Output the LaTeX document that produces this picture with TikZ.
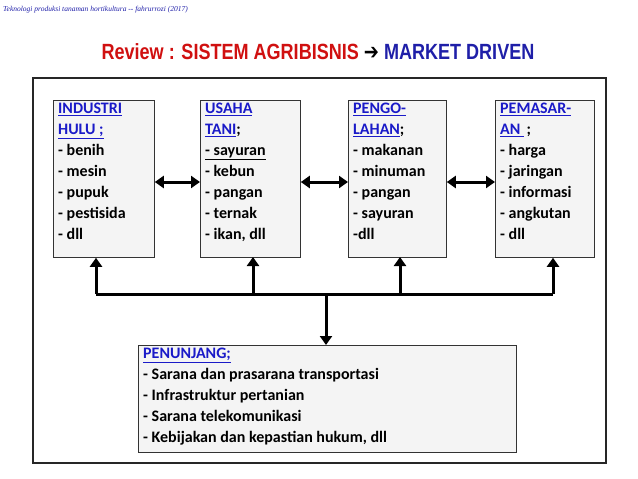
\documentclass[tikz,border=0pt]{standalone}
\usepackage{fontspec}
\setmainfont{Carlito}
\newfontfamily\titlef{Liberation Sans}
\newfontfamily\hdrf{Liberation Serif}
\newfontfamily\symf{DejaVu Sans}
\usetikzlibrary{arrows.meta}
\definecolor{tred}{HTML}{D01010}
\definecolor{tblue}{HTML}{1F1FA8}
\definecolor{hblue}{HTML}{1A1AC8}
\definecolor{boxg}{HTML}{F4F4F4}
\tikzset{
 box/.style={draw=black!80,fill=boxg,line width=0.8pt,anchor=north west,inner sep=0pt},
 txt/.style={anchor=north west,align=left,inner sep=0pt,font=\fontsize{16}{21}\selectfont\bfseries},
 dbl/.style={line width=3pt,{Triangle[length=9pt,width=12pt]}-{Triangle[length=9pt,width=12pt]}},
 up/.style={line width=3pt,-{Triangle[length=9pt,width=12pt]}},
}
\newcommand{\hd}[1]{\textcolor{hblue}{\underline{#1}}}
\begin{document}
\begin{tikzpicture}[x=1pt,y=-1pt]
\useasboundingbox (0,0) rectangle (638,479);
\node[anchor=west,inner sep=0pt,font=\hdrf\itshape\fontsize{7.5}{8}\selectfont,text=tblue] (hdr) at (3,10) {Teknologi produksi tanaman hortikultura -- fahrurrozi (2017)};
\node[inner sep=0pt,font=\titlef\bfseries\fontsize{22}{24}\selectfont] (title) at (318,52) {\scalebox{0.82}[1]{\textcolor{tred}{Review : SISTEM AGRIBISNIS} \textcolor{black}{\symf ➔} \textcolor{tblue}{MARKET DRIVEN}}};
\draw[line width=2pt,black!85] (33,78) rectangle (606,463);
\node[box,minimum width=101pt,minimum height=157pt] (b1) at (53,100) {};
\node[box,minimum width=100pt,minimum height=157pt] (b2) at (200,100) {};
\node[box,minimum width=98pt,minimum height=157pt] (b3) at (348,100) {};
\node[box,minimum width=99pt,minimum height=157pt] (b4) at (495,100) {};
\node[box,minimum width=378pt,minimum height=107pt] (b5) at (138,345) {};
\node[txt] (t1) at (58,103) {\hd{INDUSTRI}\\\hd{HULU ;}\\- benih\\- mesin\\- pupuk\\- pestisida\\- dll};
\node[txt] (t2) at (205,103) {\hd{USAHA}\\\hd{TANI};\\\underline{- sayuran}\\- kebun\\- pangan\\- ternak\\- ikan, dll};
\node[txt] (t3) at (353,103) {\hd{PENGO-}\\\hd{LAHAN};\\- makanan\\- minuman\\- pangan\\- sayuran\\-dll};
\node[txt] (t4) at (500,103) {\hd{PEMASAR-}\\\hd{AN }\,;\\- harga\\- jaringan\\- informasi\\- angkutan\\- dll};
\node[txt] (t5) at (143,348) {\hd{PENUNJANG;}\\- Sarana dan prasarana transportasi\\- Infrastruktur pertanian\\- Sarana telekomunikasi\\- Kebijakan dan kepastian hukum, dll};
\draw[dbl] (b1.east|-0,182) -- (b2.west|-0,182);
\draw[dbl] (b2.east|-0,182) -- (b3.west|-0,182);
\draw[dbl] (b3.east|-0,182) -- (b4.west|-0,182);
\coordinate (bl) at (96,294);
\coordinate (br) at (553,294);
\coordinate (bc) at (326,294);
\draw[line width=3pt] (bl) -- (br);
\draw[up] (bl) -- (bl|-b1.south);
\draw[up] (253,294) -- (253,257);
\draw[up] (400,294) -- (400,257);
\draw[up] (br) -- (br|-b4.south);
\draw[up] (bc) -- (bc|-b5.north);
\end{tikzpicture}
\end{document}
